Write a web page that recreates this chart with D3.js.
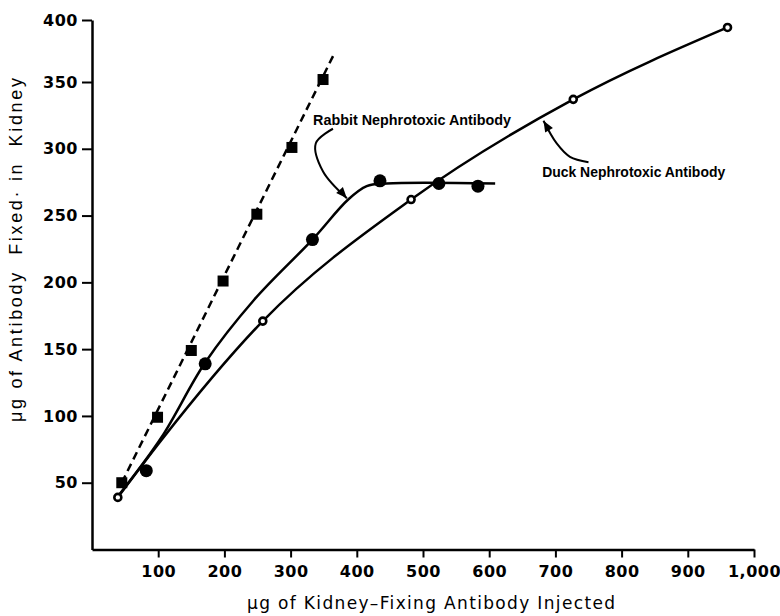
<!DOCTYPE html>
<html>
<head>
<meta charset="utf-8">
<script src="https://cdn.jsdelivr.net/npm/d3@7"></script>
<style>
  html, body { margin: 0; padding: 0; background: #fff; }
  svg { display: block; }
</style>
</head>
<body>
<svg id="chart" width="780" height="616"></svg>
<script>
// ---- data ----
const xTicks = [100, 200, 300, 400, 500, 600, 700, 800, 900, 1000];
const yTicks = [50, 100, 150, 200, 250, 300, 350, 400];

// dashed series (squares)
const squarePoints = [[45, 50], [99, 99], [150, 149], [198, 201], [249, 251], [302, 301], [349, 352]];
const squareLine = [[45, 50], [367, 374]];

// Rabbit nephrotoxic antibody (filled circles)
const rabbitPoints = [[82, 59], [171, 139], [333, 232], [435, 276], [524, 274], [583, 272]];
const rabbitCurve = [[41, 41], [105, 84], [171, 140], [245, 187], [333, 232], [387, 262], [415, 272], [445, 274], [609, 274]];

// Duck nephrotoxic antibody (open circles)
const duckPoints = [[39, 39], [258, 171], [482, 262], [727, 337], [960, 394]];
const duckCurve = [[39, 39], [105, 82], [258, 171], [482, 262], [727, 337], [960, 394]];

// annotations
const rabbitLabel = { text: "Rabbit Nephrotoxic Antibody", at: [334, 318] };
const rabbitArrow = [[364, 315], [338, 304], [349, 283], [385, 263]];
const duckLabel = { text: "Duck Nephrotoxic Antibody", at: [680, 279] };
const duckArrow = [[750, 290], [722, 294], [702, 304], [682, 321]];

const xTitle = "\u03bcg of Kidney\u2013Fixing Antibody Injected";
const yTitle = "\u03bcg of Antibody\u00a0 Fixed\u00b7 in\u00a0 Kidney";

// ---- drawing ----
const svg = d3.select("#chart");
const x = d3.scaleLinear().domain([0, 1000]).range([92, 754]);
// the printed axis is slightly compressed at its top, so the scale is piecewise
const y = d3.scaleLinear().domain([0, 350, 400]).range([549.5, 82, 20]);

const tickFont = "DejaVu Sans";

const xAxis = svg.append("g")
  .attr("transform", `translate(0,${y(0)})`)
  .call(d3.axisBottom(x).tickValues(xTicks).tickFormat(d3.format(",")).tickSize(8).tickSizeOuter(0).tickPadding(8));
const yAxis = svg.append("g")
  .attr("transform", `translate(${x(0)},0)`)
  .call(d3.axisLeft(y).tickValues(yTicks).tickSize(10).tickSizeOuter(0).tickPadding(4));

[xAxis, yAxis].forEach(g => {
  g.select(".domain").attr("stroke", "#000").attr("stroke-width", 2.5);
  g.selectAll(".tick line").attr("stroke", "#000").attr("stroke-width", 2);
  g.selectAll(".tick text").attr("fill", "#000")
    .style("font-family", tickFont).style("font-size", "16px").style("font-weight", "bold")
    .style("letter-spacing", "0.5px");
});

// dashed line + squares
const line = d3.line().x(d => x(d[0])).y(d => y(d[1]));
svg.append("path").datum(squareLine)
  .attr("d", line)
  .attr("fill", "none").attr("stroke", "#000").attr("stroke-width", 2.5)
  .attr("stroke-dasharray", "8,5");

svg.selectAll(".sq").data(squarePoints).enter().append("rect")
  .attr("x", d => x(d[0]) - 5.5).attr("y", d => y(d[1]) - 5.5)
  .attr("width", 11).attr("height", 11).attr("fill", "#000");

// curves
const curveR = d3.line().x(d => x(d[0])).y(d => y(d[1])).curve(d3.curveCatmullRom.alpha(0.5));
const curveD = d3.line().x(d => x(d[0])).y(d => y(d[1])).curve(d3.curveMonotoneX);
svg.append("path").datum(rabbitCurve).attr("d", curveR)
  .attr("fill", "none").attr("stroke", "#000").attr("stroke-width", 2.5);
svg.append("path").datum(duckCurve).attr("d", curveD)
  .attr("fill", "none").attr("stroke", "#000").attr("stroke-width", 2.5);

svg.selectAll(".rb").data(rabbitPoints).enter().append("circle")
  .attr("cx", d => x(d[0])).attr("cy", d => y(d[1])).attr("r", 6.5).attr("fill", "#000");

svg.selectAll(".dk").data(duckPoints).enter().append("circle")
  .attr("cx", d => x(d[0])).attr("cy", d => y(d[1])).attr("r", 3.5)
  .attr("fill", "#fff").attr("stroke", "#000").attr("stroke-width", 2.6);

// annotations
const annFont = "Liberation Sans";
function arrow(pts) {
  const p = d3.line().x(d => x(d[0])).y(d => y(d[1])).curve(d3.curveCatmullRom.alpha(0.5));
  svg.append("path").datum(pts).attr("d", p)
    .attr("fill", "none").attr("stroke", "#000").attr("stroke-width", 2);
  const n = pts.length;
  const tx = x(pts[n - 1][0]), ty = y(pts[n - 1][1]);
  const px = x(pts[n - 2][0]), py = y(pts[n - 2][1]);
  const ang = Math.atan2(ty - py, tx - px);
  const L = 11, W = 4.5;
  const bx = tx - L * Math.cos(ang), by = ty - L * Math.sin(ang);
  const nx = -Math.sin(ang), ny = Math.cos(ang);
  svg.append("path")
    .attr("d", `M${tx},${ty}L${bx + W * nx},${by + W * ny}L${bx - W * nx},${by - W * ny}Z`)
    .attr("fill", "#000");
}
arrow(rabbitArrow);
arrow(duckArrow);

svg.append("text").attr("x", x(rabbitLabel.at[0])).attr("y", y(rabbitLabel.at[1]))
  .text(rabbitLabel.text).attr("textLength", 198).attr("lengthAdjust", "spacingAndGlyphs")
  .style("font-family", annFont).style("font-weight", "bold").style("font-size", "14px")
  .attr("fill", "#000");
svg.append("text").attr("x", x(duckLabel.at[0])).attr("y", y(duckLabel.at[1]))
  .text(duckLabel.text).attr("textLength", 183).attr("lengthAdjust", "spacingAndGlyphs")
  .style("font-family", annFont).style("font-weight", "bold").style("font-size", "14px")
  .attr("fill", "#000");

// axis titles
svg.append("text").attr("x", 431).attr("y", 609).attr("text-anchor", "middle")
  .text(xTitle).attr("textLength", 368).attr("lengthAdjust", "spacing")
  .style("font-family", tickFont).style("font-size", "17px").attr("fill", "#000");
svg.append("text").attr("transform", "translate(22,250) rotate(-90)").attr("text-anchor", "middle")
  .text(yTitle).attr("textLength", 344).attr("lengthAdjust", "spacing")
  .style("font-family", annFont).style("font-size", "18px").attr("fill", "#000");
</script>
</body>
</html>
